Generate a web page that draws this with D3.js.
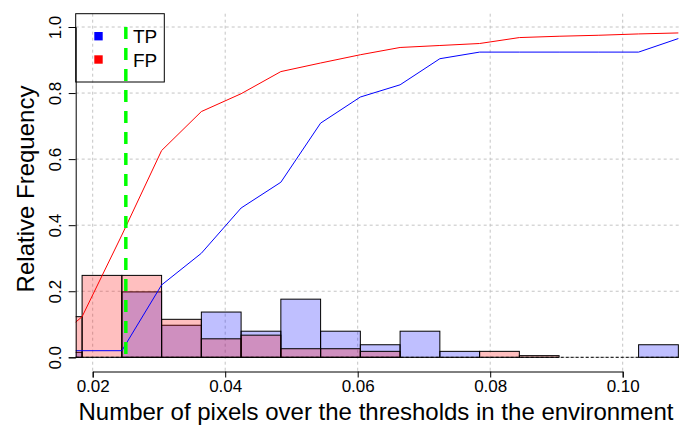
<!DOCTYPE html>
<html>
<head>
<meta charset="utf-8">
<script src="https://cdn.jsdelivr.net/npm/d3@7"></script>
<style>
  body { margin: 0; background: #fff; }
  svg { display: block; }
  svg text { font-family: "Liberation Sans", Arial, sans-serif; }
</style>
</head>
<body>
<div id="chart"></div>
<script>
//DATA
// bin edges of the histograms (width 0.006)
const edges = [0.0124, 0.0184, 0.0244, 0.0304, 0.0364, 0.0424, 0.0484, 0.0544, 0.0604,
               0.0664, 0.0724, 0.0784, 0.0844, 0.0904, 0.0964, 0.1024, 0.1084];
// relative frequency per bin
const tpBins = [0.015, 0, 0.198, 0.097, 0.137, 0.079, 0.176, 0.079, 0.038, 0.079, 0.018, 0, 0, 0, 0, 0.038];
const fpBins = [0.123, 0.248, 0.248, 0.115, 0.056, 0.067, 0.026, 0.026, 0.018, 0, 0, 0.018, 0.005, 0, 0, 0];
// cumulative curves, one value per edge
const tpCum = [0.02, 0.02, 0.02, 0.219, 0.315, 0.452, 0.530, 0.709, 0.788, 0.825, 0.904, 0.924,
               0.924, 0.924, 0.924, 0.924, 0.965];
const fpCum = [0.02, 0.123, 0.37, 0.626, 0.744, 0.798, 0.865, 0.891, 0.916, 0.938, 0.944, 0.950,
               0.968, 0.972, 0.975, 0.979, 0.982];
// threshold marker
const threshold = 0.025;
// ticks
const xTicks = [0.02, 0.04, 0.06, 0.08, 0.10];
const yTicks = [0, 0.2, 0.4, 0.6, 0.8, 1.0];
const legendItems = [{label: "TP", color: "#0000ff"}, {label: "FP", color: "#ff0000"}];

const width = 680, height = 426;
// plot region (R style, clipped)
const plot = {left: 75.7, right: 680, top: 13.7, bottom: 371};

const x = d3.scaleLinear().domain([0.02, 0.10]).range([92.7, 622.7]);
const y = d3.scaleLinear().domain([0, 1]).range([357.3, 27]);

const svg = d3.select("#chart").append("svg")
    .attr("width", width)
    .attr("height", height);

svg.append("defs").append("clipPath").attr("id", "plotclip")
  .append("rect")
    .attr("x", plot.left).attr("y", plot.top)
    .attr("width", plot.right - plot.left).attr("height", plot.bottom - plot.top);

// grid
const grid = svg.append("g")
    .attr("stroke", "#c4c4c4")
    .attr("stroke-dasharray", "3,3")
    .attr("stroke-width", 1);
grid.selectAll("line.v").data(xTicks).join("line")
    .attr("class", "v")
    .attr("x1", d => x(d)).attr("x2", d => x(d))
    .attr("y1", plot.top).attr("y2", plot.bottom);
grid.selectAll("line.h").data(yTicks).join("line")
    .attr("class", "h")
    .attr("x1", plot.left).attr("x2", plot.right)
    .attr("y1", d => y(d)).attr("y2", d => y(d));

const g = svg.append("g").attr("clip-path", "url(#plotclip)");

// histograms, TP first then FP on top
function drawBars(values, fill) {
  const bins = values.map((v, i) => ({x0: edges[i], x1: edges[i + 1], v}))
    .filter(d => d.v > 0);
  g.append("g").selectAll("rect").data(bins).join("rect")
    .attr("x", d => x(d.x0))
    .attr("width", d => x(d.x1) - x(d.x0))
    .attr("y", d => y(d.v))
    .attr("height", d => y(0) - y(d.v))
    .attr("fill", fill)
    .attr("stroke", "#000")
    .attr("stroke-width", 1);
}
drawBars(tpBins, "rgba(0,0,255,0.25)");
drawBars(fpBins, "rgba(255,0,0,0.25)");

// zero line
g.append("line")
    .attr("x1", plot.left).attr("x2", plot.right)
    .attr("y1", y(0)).attr("y2", y(0))
    .attr("stroke", "#000")
    .attr("stroke-dasharray", "3,2");

// cumulative lines
const line = d3.line().x((d, i) => x(edges[i])).y(d => y(d));
g.append("path").datum(tpCum)
    .attr("d", line).attr("fill", "none").attr("stroke", "#0000ff").attr("stroke-width", 1);
g.append("path").datum(fpCum)
    .attr("d", line).attr("fill", "none").attr("stroke", "#ff0000").attr("stroke-width", 1);

// threshold
g.append("line")
    .attr("x1", x(threshold)).attr("x2", x(threshold))
    .attr("y1", y(1)).attr("y2", y(0))
    .attr("stroke", "#00ff00")
    .attr("stroke-width", 3.5)
    .attr("stroke-dasharray", "12,9");

// x axis
const xAxis = svg.append("g")
    .attr("transform", `translate(0,${plot.bottom + 0.5})`)
    .call(d3.axisBottom(x).tickValues(xTicks).tickFormat(d3.format(".2f")).tickSizeOuter(0).tickSize(6));
xAxis.attr("font-family", null).attr("font-size", null);
xAxis.selectAll("text")
    .attr("y", 20.5).attr("dy", 0)
    .attr("fill", "#000")
    .style("font-size", "17px");

// y axis
const yAxis = svg.append("g")
    .attr("transform", `translate(${plot.left},0)`)
    .call(d3.axisLeft(y).tickValues(yTicks).tickFormat(d3.format(".1f")).tickSizeOuter(0).tickSize(7));
yAxis.attr("font-family", null).attr("font-size", null);
yAxis.selectAll("text")
    .attr("x", null).attr("dy", 0)
    .attr("text-anchor", "middle")
    .attr("transform", "translate(-14.5,0) rotate(-90)")
    .attr("fill", "#000")
    .style("font-size", "17px");

// axis titles
svg.append("text")
    .attr("x", 376).attr("y", 420)
    .attr("text-anchor", "middle")
    .style("font-size", "24px")
    .text("Number of pixels over the thresholds in the environment");
svg.append("text")
    .attr("transform", "translate(33.5,189) rotate(-90)")
    .attr("text-anchor", "middle")
    .style("font-size", "24px")
    .text("Relative Frequency");

// legend
const legend = svg.append("g");
legend.append("rect")
    .attr("x", 75.7).attr("y", 13.7)
    .attr("width", 88.6).attr("height", 68.3)
    .attr("fill", "none").attr("stroke", "#000");
legend.selectAll("rect.key").data(legendItems).join("rect")
    .attr("class", "key")
    .attr("x", 94.3).attr("y", (d, i) => 32 + i * 23.3)
    .attr("width", 8.4).attr("height", 8.4)
    .attr("fill", d => d.color);
legend.selectAll("text").data(legendItems).join("text")
    .attr("x", 133).attr("y", (d, i) => 43.3 + i * 23.3)
    .style("font-size", "19px")
    .text(d => d.label);
</script>
</body>
</html>
